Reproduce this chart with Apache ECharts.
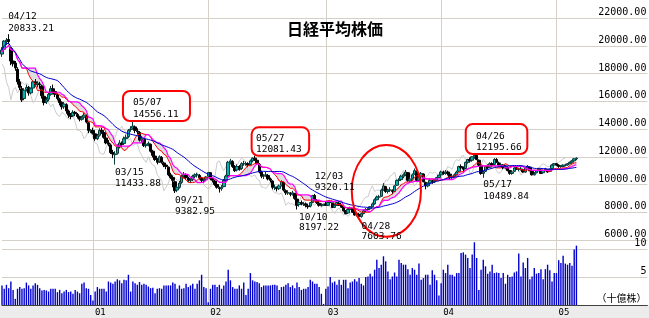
<!DOCTYPE html>
<html><head><meta charset="utf-8">
<script src="https://cdn.jsdelivr.net/npm/echarts@6/dist/echarts.min.js"></script>
<style>html,body{margin:0;padding:0;background:#fff}#c{width:649px;height:318px}</style>
</head><body><div id="c"></div>
<script>
// ---- data (weekly, Friday dates from 2000-03-24) ----
const firstFriday = [2000, 2, 24];
const slotCount = 292;
const opens = [
19400,19750,20300,20450,19800,18900,18750,18300,17400,16900,
16200,16850,17000,16600,16950,17400,17200,17250,17100,16350,
15950,16150,16500,16900,16700,16450,16150,15900,15600,15750,
15300,15000,14950,15200,15050,14900,14700,14850,14950,14450,
13850,13900,13650,13300,13550,13900,13750,13350,13000,12850,
12300,12150,12250,12700,12950,12950,13300,13450,13950,14050,
14150,13850,13750,13200,13250,12800,12900,12900,12400,12050,
11800,11650,11950,11550,11400,11250,10700,10500,10200,9600,
9800,10150,10600,10650,10450,10300,10350,10600,10700,10650,
10450,10300,10350,10600,10850,10400,10250,10000,9750,9700,
9850,10300,10650,11600,11650,11300,11050,11300,11150,11500,
11500,11500,11450,11700,11900,11750,11450,10900,10600,10650,
10650,10400,10250,9800,9750,9700,9950,10150,9550,9400,
9350,9300,9350,8950,8550,8700,8600,8600,8450,8450,
8700,9200,8850,8650,8500,8500,8600,8500,8700,8650,
8350,8500,8650,8500,8350,8100,7950,8200,8250,8000,
7800,7850,7700,7900,8100,8200,8250,8400,8600,8900,
9100,9150,9600,9850,9500,9600,9550,9500,9950,10300,
10350,10600,10700,10850,10250,10450,10750,10950,10300,10550,
10750,10150,9900,10100,10250,10200,10300,10500,10700,10900,
10800,10900,10750,10500,10600,10700,10950,11300,11200,11150,
11600,11800,11750,12000,12100,11750,11350,10800,10950,11300,
11250,11500,11450,11800,11550,11400,11400,11200,11250,11000,
10800,10950,11200,11100,11100,11050,10900,11200,11250,10950,
10700,10850,11000,11050,10850,11000,11050,10950,11150,11400,
11500,11400,11300,11300,11400,11400,11500,11600,11700,11850];
const highs = [
19900,20400,20550,20833.21,19900,19300,18900,18450,17600,17100,
16900,17200,17100,17000,17500,17600,17450,17400,17200,16500,
16300,16600,17100,17200,16800,16550,16250,16000,15950,15850,
15400,15150,15350,15300,15150,14950,14950,15150,15050,14500,
14000,14100,13800,13650,14050,14100,13850,13450,13200,12950,
12500,12400,12900,13200,13100,13450,13600,14000,14200,14556.11,
14250,14050,13850,13500,13350,13050,13100,12950,12500,12150,
11900,12100,12050,11650,11550,11300,10850,10650,10250,9900,
10250,10700,10900,10800,10550,10450,10700,10800,10850,10750,
10550,10450,10600,10900,10900,10550,10350,10100,9850,9950,
10400,10700,11700,11850,11750,11400,11450,11400,11600,11700,
11650,11600,11800,11950,12081.43,11850,11550,11000,10750,10900,
10750,10500,10300,10000,9850,10000,10300,10200,9650,9550,
9450,9550,9400,9000,8800,8850,8750,8700,8550,8750,
9250,9320.11,8950,8750,8650,8600,8750,8800,8800,8700,
8600,8750,8700,8550,8400,8150,8300,8400,8300,8100,
8000,7950,7950,8200,8300,8300,8450,8700,9000,9200,
9250,9700,10100,9900,9700,9800,9650,9950,10350,10450,
10700,10800,11050,10900,10500,10800,11150,11000,10600,10900,
10800,10200,10150,10400,10350,10400,10550,10700,11000,11000,
11050,11000,10800,10700,10800,11000,11350,11450,11300,11650,
11850,11950,12050,12150,12195.66,11800,11400,11000,11350,11450,
11600,11600,11900,11900,11650,11550,11450,11400,11300,11050,
11000,11250,11300,11200,11250,11100,11250,11400,11300,11000,
10900,11050,11200,11100,11050,11200,11100,11150,11450,11550,
11550,11450,11400,11450,11500,11550,11650,11750,11900,11950];
const lows = [
19200,19600,20050,20100,18600,18500,18200,17200,16800,15950,
16100,16700,16400,16500,16900,17050,17000,16900,16200,15700,
15800,16000,16400,16600,16300,16050,15700,15400,15450,15100,
14800,14700,14850,14950,14750,14550,14600,14750,14400,13700,
13700,13600,13150,13200,13450,13650,13300,12900,12750,12200,
11900,11433.88,12150,12600,12700,12850,13150,13350,13800,13950,
13700,13600,13100,13050,12700,12650,12750,12300,11950,11700,
11450,11550,11500,11250,11100,10600,10400,9800,9382.95,9450,
9700,10050,10450,10350,10200,10100,10250,10450,10500,10350,
10150,10100,10250,10550,10300,10150,9900,9700,9420,9550,
9800,10200,10600,11450,11200,10900,10950,11000,11050,11350,
11350,11250,11350,11600,11700,11400,10800,10450,10400,10550,
10300,10150,9650,9600,9500,9600,9850,9500,9250,9250,
9150,9200,8900,8197.22,8400,8500,8450,8350,8250,8350,
8650,8850,8600,8400,8400,8480,8450,8450,8600,8300,
8300,8450,8450,8300,8050,7850,7900,8100,7950,7750,
7700,7650,7603.76,7850,8000,8100,8150,8350,8550,8850,
8950,9100,9550,9400,9350,9450,9300,9450,9900,10150,
10250,10450,10600,10200,10100,10350,10700,10250,10200,10450,
10150,9650,9800,10000,10050,10100,10250,10450,10650,10700,
10700,10650,10400,10400,10500,10650,10900,11100,10950,11100,
11500,11600,11650,11850,11750,11300,10700,10489.84,10900,11100,
11200,11300,11400,11550,11300,11300,11100,11100,10950,10700,
10700,10900,11050,10950,11000,10850,10850,11150,10950,10650,
10650,10800,10950,10750,10800,10950,10850,10900,11100,11350,
11350,11200,11200,11250,11300,11350,11450,11550,11650,11750];
const closes = [
19700,20337,20400,20300,18900,18700,18400,17400,17000,16100,
16800,17000,16600,16900,17400,17200,17300,17200,16400,15900,
16100,16500,16900,16700,16500,16200,15900,15600,15800,15300,
15000,14900,15200,15100,14900,14700,14800,15000,14500,13900,
13900,13700,13300,13500,13900,13800,13400,13000,12900,12300,
12200,12200,12700,13000,12900,13300,13400,13900,14000,14200,
13900,13800,13200,13300,12800,12900,12969,12400,12100,11800,
11600,12000,11600,11400,11300,10700,10500,10300,9550,9800,
10100,10600,10700,10500,10300,10300,10600,10700,10700,10500,
10300,10300,10543,10870,10400,10300,10000,9800,9700,9800,
10300,10600,11600,11700,11300,11000,11300,11100,11500,11500,
11500,11400,11700,11900,11800,11500,10900,10600,10600,10700,
10400,10300,9800,9800,9700,9900,10200,9600,9400,9400,
9300,9400,9000,8500,8700,8600,8600,8500,8400,8700,
9200,8900,8700,8500,8500,8579,8500,8700,8700,8340,
8500,8700,8500,8363,8100,7900,8200,8300,8000,7800,
7900,7700,7900,8100,8200,8200,8400,8600,8900,9100,
9100,9600,9900,9500,9600,9600,9500,9900,10300,10300,
10600,10700,10900,10300,10400,10700,11000,10300,10500,10800,
10200,9900,10100,10300,10200,10300,10500,10676,10900,10800,
10900,10800,10500,10600,10700,10900,11300,11200,11100,11600,
11800,11700,12000,12100,11800,11400,10800,10900,11300,11200,
11500,11400,11800,11600,11400,11400,11200,11300,11000,10800,
10900,11200,11100,11100,11100,10900,11200,11300,11000,10700,
10800,11000,11100,10800,11000,11100,10900,11100,11400,11500,
11400,11300,11300,11400,11400,11500,11600,11700,11850,11900];
const volumes = [
3.5,2.9,3.6,3.0,4.2,2.7,1.1,2.9,3.2,2.9,3.0,4.0,3.5,2.9,3.5,3.9,3.6,3.0,2.6,2.7,
2.6,2.4,2.9,2.9,2.9,2.3,2.7,2.1,2.4,2.7,2.3,2.4,2.0,2.7,2.4,2.1,3.8,4.0,3.0,2.9,1.8,
0.8,
2.4,3.2,2.9,2.9,2.9,2.4,4.2,4.0,3.8,4.2,4.6,4.4,3.9,4.5,4.4,5.4,2.4,4.2,3.9,3.6,
4.1,3.6,3.8,3.6,3.3,3.0,3.1,2.1,2.9,3.0,2.9,3.5,3.5,3.5,3.5,4.0,3.8,2.9,3.5,2.9,
3.0,3.8,3.2,3.5,3.8,2.9,3.8,4.4,5.4,3.2,3.0,
0.5,2.9,3.6,3.6,3.2,3.6,2.9,3.5,4.2,6.3,4.4,3.2,2.9,2.9,3.5,2.9,4.0,1.8,2.9,5.7,
4.4,4.2,4.1,3.9,3.2,3.5,3.5,3.5,3.5,3.6,3.6,3.5,2.7,3.2,3.3,3.6,3.9,3.2,3.5,3.0,
4.0,3.2,2.7,2.9,2.9,3.2,4.5,4.2,3.8,3.8,3.2,2.0,0.2,
2.9,3.3,5.0,4.0,4.2,3.6,4.5,3.6,4.5,4.5,3.0,4.0,4.2,4.6,4.2,4.8,3.8,3.5,5.0,5.1,
5.6,5.1,6.3,8.1,6.6,7.2,8.7,7.8,6.0,4.6,5.1,5.8,5.1,8.1,7.5,7.2,7.2,6.4,5.4,6.6,
6.3,5.4,7.4,4.5,4.8,5.4,5.4,3.6,6.2,5.4,4.4,1.7,
3.9,6.3,5.7,7.2,5.4,5.4,5.1,5.7,5.7,9.3,9.4,9.0,8.4,6.6,9.0,11.2,8.4,2.7,6.3,8.1,
6.9,5.6,6.0,7.2,5.7,5.8,5.7,4.8,5.7,3.8,5.4,5.0,5.1,5.8,6.0,9.2,5.1,7.6,6.6,8.4,
4.6,5.1,6.6,5.6,5.7,6.4,4.6,6.4,7.2,6.2,4.2,5.7,5.7,8.0,7.5,8.8,7.4,7.2,7.5,7.0,
9.9,10.6];
const noteDates  = ['04/12','05/07','03/15','09/21','05/27','12/03','10/10','04/28','04/26','05/17'];
const noteValues = [20833.21,14556.11,11433.88,9382.95,12081.43,9320.11,8197.22,7603.76,12195.66,10489.84];
const noteWeeks  = [3,59,51,78,114,141,133,162,214,217];

// ---- categories ----
const cats = [];
const d0 = Date.UTC(firstFriday[0], firstFriday[1], firstFriday[2]);
for (let i = 0; i < slotCount; i++) cats.push(new Date(d0 + i * 7 * 864e5).toISOString().slice(0, 10));
const isYearStart = (idx) => { const s = cats[idx]; if (!s) return false; const m = +s.slice(5,7), d = +s.slice(8,10); return m === 1 && d >= 4 && d <= 10; };

// ---- indicators derived from the candles ----
function midpoint(n){ return closes.map((_, i) => { let h = -Infinity, l = Infinity; for (let k = Math.max(0, i-n+1); k <= i; k++){ h = Math.max(h, highs[k]); l = Math.min(l, lows[k]); } return (h + l) / 2; }); }
function sma(n){ return closes.map((_, i) => { let s = 0, c = 0; for (let k = Math.max(0, i-n+1); k <= i; k++){ s += closes[k]; c++; } return s / c; }); }
const redLine = midpoint(9), pinkLine = midpoint(13), blueLine = sma(26);
const lagLine = closes.slice(5);
const cloudBase = redLine.map((v, i) => Math.min(v, pinkLine[i]));
const cloudSpan = redLine.map((v, i) => Math.abs(v - pinkLine[i]));
const candleData = closes.map((c, i) => [opens[i], c, lows[i], highs[i]]);

const GRID = '#d4d0c8';
const MONO = '"DejaVu Sans Mono", "Noto Sans CJK JP", monospace';
const xCommon = { type: 'category', data: cats, boundaryGap: false, axisTick: { show: false },
  splitLine: { show: true, interval: (i) => isYearStart(i), lineStyle: { color: GRID, width: 1 } } };

const chart = echarts.init(document.getElementById('c'), null, { renderer: 'canvas' });
const option = {
  animation: false,
  backgroundColor: '#fff',
  title: { text: '日経平均株価', left: 287, top: 21, padding: 0,
    textStyle: { fontFamily: '"Noto Sans CJK JP"', fontSize: 16, fontWeight: 'bold', color: '#000' } },
  grid: [
    { left: 2, right: 1.6, top: 0, height: 240, outerBoundsMode: 'none' },
    { left: 2, right: 1.6, top: 241, height: 64, outerBoundsMode: 'none' }
  ],
  xAxis: [
    Object.assign({}, xCommon, { gridIndex: 0, axisLine: { show: false }, axisLabel: { show: false } }),
    Object.assign({}, xCommon, { gridIndex: 1, axisLine: { show: true, lineStyle: { color: '#404040', width: 1 } },
      axisLabel: { show: true, interval: (i) => isYearStart(i), formatter: (v) => v.slice(2, 4), align: 'left',
        padding: [0, 0, 0, 2], margin: 3, fontFamily: MONO, fontSize: 9, color: '#000' } })
  ],
  yAxis: [
    { type: 'value', gridIndex: 0, position: 'right', min: 6000, max: 23297.3, interval: 2000,
      axisLine: { show: false }, axisTick: { show: false },
      splitLine: { show: true, showMaxLine: false, lineStyle: { color: GRID, width: 1 } },
      axisLabel: { inside: true, margin: 1, showMaxLabel: false, verticalAlign: 'bottom', lineHeight: 11,
        formatter: (v) => v.toFixed(2), fontFamily: MONO, fontSize: 10, color: '#000' } },
    { type: 'value', gridIndex: 1, position: 'right', min: 0, max: 11.4286, interval: 5,
      axisLine: { show: false }, axisTick: { show: false },
      splitLine: { show: true, showMaxLine: false, showMinLine: false, lineStyle: { color: GRID, width: 1 } },
      axisLabel: { inside: true, margin: 1, showMaxLabel: false, verticalAlign: 'bottom', lineHeight: 11,
        formatter: (v) => v === 0 ? '（十億株）' : String(v), fontFamily: MONO, fontSize: 10, color: '#000' } }
  ],
  series: [
    { type: 'line', data: cloudBase, stack: 'cloud', symbol: 'none', silent: true, lineStyle: { opacity: 0 }, z: 1 },
    { type: 'line', data: cloudSpan, stack: 'cloud', symbol: 'none', silent: true, lineStyle: { opacity: 0 },
      areaStyle: { color: '#dedede', opacity: 1 }, z: 1 },
    { type: 'line', data: lagLine, symbol: 'none', silent: true, lineStyle: { color: '#cccccc', width: 1 }, z: 2 },
    { type: 'candlestick', data: candleData, barWidth: 3,
      itemStyle: { color: '#00b4b4', color0: '#000000', borderColor: '#0a3a3a', borderColor0: '#000000', borderWidth: 1 }, z: 3 },
    { type: 'line', data: redLine, symbol: 'none', lineStyle: { color: '#ff0000', width: 1 }, z: 4 },
    { type: 'line', data: pinkLine, symbol: 'none', lineStyle: { color: '#ff00ff', width: 1.2 }, z: 4 },
    { type: 'line', data: blueLine, symbol: 'none', lineStyle: { color: '#0000cc', width: 1 }, z: 4 },
    { type: 'bar', xAxisIndex: 1, yAxisIndex: 1, data: volumes, barWidth: 1.4, itemStyle: { color: '#0000cc' } }
  ],
  graphic: [ { type: 'rect', z: -1, silent: true, shape: { x: 0, y: 305, width: 649, height: 13 }, style: { fill: '#ececec' } } ]
};
chart.setOption(option);

// ---- annotations placed through the axes ----
// [dx, dy, lineHeight, box: [bx, by, bw, bh] relative to point or null, text offset inside box]
const noteLayout = [
  [-0.5, -23.2, 12, null],
  [0, 0, 12.5, [-9.9, -30.3, 67, 30], [10, 5.2]],
  [0, 2.2, 11, null],
  [0, 2.1, 11, null],
  [0, 0, 11, [-3.2, -28.3, 57.5, 28.5], [4.3, 5.5]],
  [0, -22.5, 10.6, null],
  [2, 2.8, 10, null],
  [0.3, 3.7, 10.3, null],
  [0, 0, 11, [-10.9, -30, 61.6, 30], [10.3, 6.5]],
  [0, 0.4, 12.4, null]
];
const els = option.graphic.slice();
noteDates.forEach((d, k) => {
  const p = chart.convertToPixel({ gridIndex: 0 }, [noteWeeks[k], noteValues[k]]);
  const L = noteLayout[k];
  let tx = p[0] + L[0], ty = p[1] + L[1];
  if (L[3]) {
    const b = L[3];
    els.push({ type: 'rect', z: 10, silent: true, shape: { x: p[0] + b[0], y: p[1] + b[1], width: b[2], height: b[3], r: 7 },
      style: { fill: '#ffffff', stroke: '#ff0000', lineWidth: 2 } });
    tx = p[0] + b[0] + L[4][0]; ty = p[1] + b[1] + L[4][1];
  }
  els.push({ type: 'text', z: 11, silent: true, x: tx, y: ty,
    style: { text: d + '\n' + noteValues[k].toFixed(2), fill: '#000', font: '9.5px ' + MONO, lineHeight: L[2], verticalAlign: 'top', align: 'left' } });
});
// ellipse around the 2003 rally
const ellCenter = [173, 9539], ellHalf = [15.6, 3300];
const c0 = chart.convertToPixel({ gridIndex: 0 }, ellCenter);
const c1 = chart.convertToPixel({ gridIndex: 0 }, [ellCenter[0] + 1, ellCenter[1] + ellHalf[1]]);
const step = c1[0] - c0[0];
els.push({ type: 'ellipse', z: 9, silent: true,
  shape: { cx: c0[0] + 0.3 * step, cy: c0[1], rx: ellHalf[0] * step, ry: c0[1] - c1[1] },
  style: { fill: 'none', stroke: '#ff0000', lineWidth: 2 } });
chart.setOption({ graphic: els });
</script></body></html>
